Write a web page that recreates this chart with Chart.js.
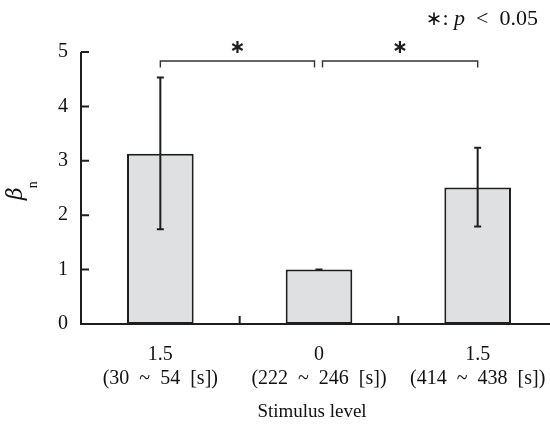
<!DOCTYPE html>
<html><head><meta charset="utf-8">
<script src="https://cdn.jsdelivr.net/npm/chart.js@4"></script>
<style>
html,body{margin:0;padding:0;overflow:hidden;background:#fff;width:550px;height:435px}
#wrap{width:557px;height:435px}
canvas{display:block}
</style></head><body>
<div id="wrap"><canvas id="c" width="557" height="435"></canvas></div>
<script>
// ---- data ----
const levels   = ['1.5', '0', '1.5'];
const periods  = ['(30\u2002~\u200254\u2002[s])', '(222\u2002~\u2002246\u2002[s])', '(414\u2002~\u2002438\u2002[s])'];
const betaMean = [3.13, 1.00, 2.51];
const errUpper = [4.53, 1.00, 3.24];
const errLower = [1.74, 1.00, 1.79];
const yTicks   = [0, 1, 2, 3, 4, 5];
const sigPairs = [[0, 1], [1, 2]];
const sigLevel = 4.835;   // bracket height in beta units
const sigMark  = '∗';
const xTitle   = 'Stimulus level';

const SERIF = '"Liberation Serif", "Times New Roman", serif';
const INK = '#1e1e1e';

const overlay = {
  id: 'overlay',
  afterDatasetsDraw(chart) {
    const ctx = chart.ctx;
    const xs = chart.scales.x, ys = chart.scales.y;
    const meta = chart.getDatasetMeta(0);
    const area = chart.chartArea;
    ctx.save();
    ctx.strokeStyle = INK;
    ctx.fillStyle = INK;
    ctx.lineCap = 'butt';

    // error bars
    ctx.lineWidth = 2;
    meta.data.forEach((bar, i) => {
      const x = bar.x;
      const yt = ys.getPixelForValue(errUpper[i]);
      const yb = ys.getPixelForValue(errLower[i]);
      ctx.beginPath();
      if (yb - yt > 0.5) { ctx.moveTo(x, yt); ctx.lineTo(x, yb); }
      ctx.moveTo(x - 3.5, yt); ctx.lineTo(x + 3.5, yt);
      ctx.moveTo(x - 3.5, yb); ctx.lineTo(x + 3.5, yb);
      ctx.stroke();
    });

    // axes
    const y0 = ys.getPixelForValue(0);
    const yMax = ys.getPixelForValue(yTicks[yTicks.length - 1]);
    ctx.lineWidth = 2;
    ctx.beginPath();
    ctx.moveTo(area.left, yMax); ctx.lineTo(area.left, y0);
    ctx.moveTo(area.left - 1, y0); ctx.lineTo(area.right, y0);
    yTicks.forEach(v => {
      const y = ys.getPixelForValue(v);
      ctx.moveTo(area.left, y); ctx.lineTo(area.left + 8, y);
    });
    // category separators
    for (let i = 0; i < levels.length - 1; i++) {
      const xb = (xs.getPixelForValue(i) + xs.getPixelForValue(i + 1)) / 2;
      ctx.moveTo(xb, y0); ctx.lineTo(xb, y0 - 8);
    }
    ctx.stroke();

    // significance brackets
    const yh = ys.getPixelForValue(sigLevel);
    ctx.lineWidth = 1.4;
    ctx.strokeStyle = '#333';
    ctx.font = 'bold 19px "DejaVu Sans", sans-serif';
    ctx.textAlign = 'center';
    sigPairs.forEach(([a, b]) => {
      let xa = meta.data[a].x, xb = meta.data[b].x;
      if (a === 1) xa += 3.5;
      if (b === 1) xb -= 4.5;
      ctx.beginPath();
      ctx.moveTo(xa, yh + 6.5); ctx.lineTo(xa, yh); ctx.lineTo(xb, yh); ctx.lineTo(xb, yh + 6.5);
      ctx.stroke();
      const m = ctx.measureText(sigMark);
      const cy = yh - 14;
      ctx.textBaseline = 'alphabetic';
      ctx.fillText(sigMark, (xa + xb) / 2, cy + (m.actualBoundingBoxAscent - m.actualBoundingBoxDescent) / 2);
    });

    // legend note top-right
    ctx.textBaseline = 'alphabetic';
    ctx.textAlign = 'left';
    const parts = [
      ['∗', '20px "DejaVu Sans", sans-serif'],
      [': ', '22px ' + SERIF],
      ['p', 'italic 22px ' + SERIF],
      ['\u2002<\u20020.05', '22px ' + SERIF]
    ];
    let total = 0;
    parts.forEach(p => { ctx.font = p[1]; total += ctx.measureText(p[0]).width; });
    let lx = 538 - total;
    ctx.fillStyle = '#111';
    parts.forEach(p => { ctx.font = p[1]; ctx.fillText(p[0], lx, 25); lx += ctx.measureText(p[0]).width; });

    // y-axis title beta_n
    ctx.save();
    ctx.translate(22, 200);
    ctx.rotate(-Math.PI / 2);
    ctx.font = 'italic 22px "DejaVu Serif", serif';
    ctx.fillText('β', 0, 0);
    const wb = ctx.measureText('β').width;
    ctx.font = '14px ' + SERIF;
    ctx.fillText('n', wb - 1, 15);
    ctx.restore();

    // x-axis title
    ctx.font = '19px ' + SERIF;
    ctx.textAlign = 'center';
    ctx.fillText(xTitle, 312, 417);
    ctx.restore();
  }
};

new Chart(document.getElementById('c'), {
  type: 'bar',
  data: {
    labels: levels.map((l, i) => [l, periods[i]]),
    datasets: [{
      data: betaMean,
      backgroundColor: '#dfe0e2',
      borderColor: INK,
      borderWidth: 2,
      borderSkipped: false,
      barPercentage: 0.42,
      categoryPercentage: 1
    }]
  },
  options: {
    responsive: false,
    animation: false,
    devicePixelRatio: 1,
    layout: { padding: { top: 52, left: 0, right: 0, bottom: 0 } },
    plugins: { legend: { display: false }, tooltip: { enabled: false } },
    scales: {
      x: {
        grid: { display: false, drawTicks: false },
        border: { display: false },
        ticks: {
          font: { family: SERIF, size: 20, lineHeight: 1.2 },
          color: '#111',
          padding: 19,
          maxRotation: 0,
          autoSkip: false
        },
        afterFit(s) { s.height = 111; s.paddingLeft = 0; s.paddingRight = 0; }
      },
      y: {
        min: 0, max: 5,
        grid: { display: false, drawTicks: false },
        border: { display: false },
        ticks: {
          stepSize: 1,
          font: { family: SERIF, size: 20 },
          color: '#111',
          padding: 13
        },
        afterFit(s) { s.width = 81; s.paddingTop = 0; s.paddingBottom = 0; }
      }
    }
  },
  plugins: [overlay]
});
</script>
</body></html>
